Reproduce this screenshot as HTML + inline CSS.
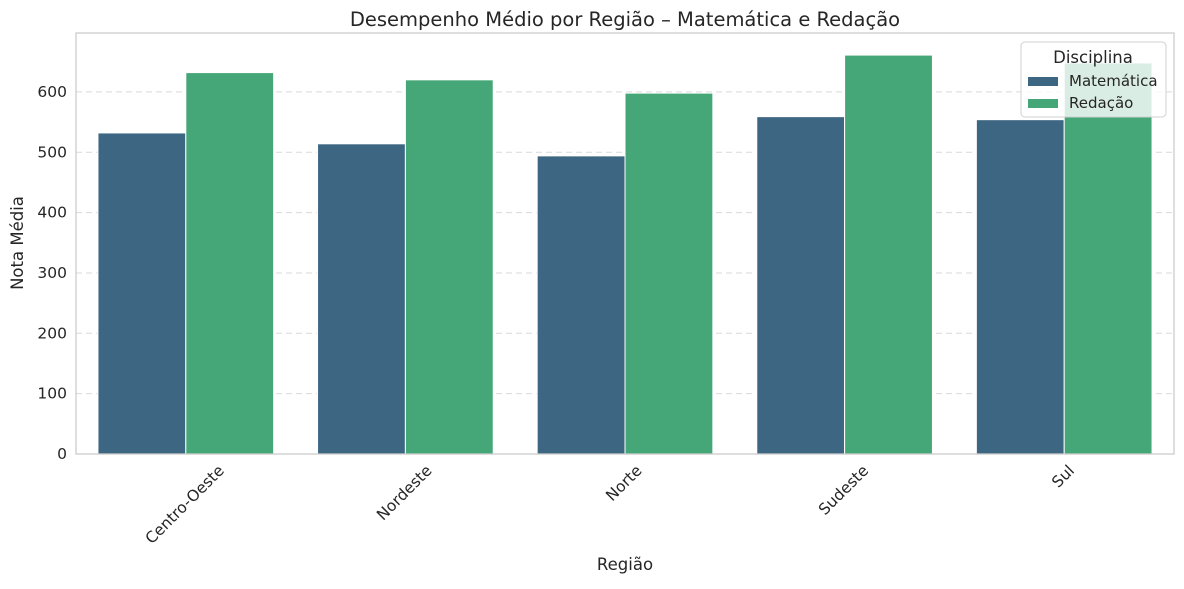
<!DOCTYPE html>
<html><head><meta charset="utf-8"><style>
body{margin:0;background:#fff;font-family:"Liberation Sans","DejaVu Sans",sans-serif;}
</style></head><body>
<svg id="chart" width="1184" height="584" xmlns="http://www.w3.org/2000/svg" font-family="DejaVu Sans, Liberation Sans, sans-serif">
<text x="625" y="26" font-size="19.5" text-anchor="middle" fill="#262626">Desempenho Médio por Região – Matemática e Redação</text>
<g id="grid"></g><g id="bars"></g><g id="axes"></g>
<text x="625" y="570" font-size="16.5" text-anchor="middle" fill="#262626">Região</text>
<text transform="translate(23,243) rotate(-90)" font-size="16.5" text-anchor="middle" fill="#262626">Nota Média</text>
<g>
<rect x="1021" y="42" width="145" height="75" rx="4" fill="#fff" fill-opacity="0.8" stroke="#d0d0d0"/>
<text x="1093" y="63" font-size="16.5" text-anchor="middle" fill="#262626">Disciplina</text>
<rect x="1028" y="77" width="30" height="9" fill="#3d6682"/>
<text x="1069" y="86" font-size="15" fill="#262626">Matemática</text>
<rect x="1028" y="99" width="30" height="9" fill="#45a778"/>
<text x="1069" y="108" font-size="15" fill="#262626">Redação</text>
</g>
</svg>
<script>
const categories=["Centro-Oeste","Nordeste","Norte","Sudeste","Sul"];
const matematica=[532,514,494,559,554];
const redacao=[632,620,598,661,648];
const yTicks=[0,100,200,300,400,500,600];
const L=76,R=1174,T=33,B=454,YMAX=697.6;
const ns="http://www.w3.org/2000/svg";
const y=v=>B-(v/YMAX)*(B-T);
const band=(R-L)/categories.length;
const xc=i=>L+band*(i+0.5);
function mk(tag,attrs,parent,text){const e=document.createElementNS(ns,tag);for(const k in attrs)e.setAttribute(k,attrs[k]);if(text!==undefined)e.textContent=text;document.getElementById(parent).appendChild(e);return e;}
yTicks.forEach(t=>{
 if(t>0){const g=mk('line',{x1:L,x2:R,y1:y(t),y2:y(t),stroke:'#d9d9d9','stroke-dasharray':'6,4'},'grid');
 
 }
 const lb=mk('text',{x:L-9,y:y(t)+5,'font-size':15.5,'text-anchor':'end',fill:'#262626'},'axes',String(t));
 
 
});
const bw=band*0.4;
categories.forEach((c,i)=>{
 const b1=mk('rect',{x:xc(i)-bw,y:y(matematica[i]),width:bw,height:B-y(matematica[i]),fill:'#3d6682',stroke:'#fff','stroke-width':1},'bars');
 
 
 const b2=mk('rect',{x:xc(i),y:y(redacao[i]),width:bw,height:B-y(redacao[i]),fill:'#45a778',stroke:'#fff','stroke-width':1},'bars');
 
 
 const lb=mk('text',{'font-size':15.5,'text-anchor':'middle',fill:'#262626'},'axes',c);
 
 
 const w=lb.getComputedTextLength();
 const cy=B+12+w*0.707/2;
 lb.setAttribute('transform',`translate(${xc(i)-1},${cy+2}) rotate(-45)`);
 lb.setAttribute('dy','5');
});
const fr=mk('rect',{x:L,y:T,width:R-L,height:B-T,fill:'none',stroke:'#cccccc','stroke-width':1.3},'axes');


</script>
</body></html>
